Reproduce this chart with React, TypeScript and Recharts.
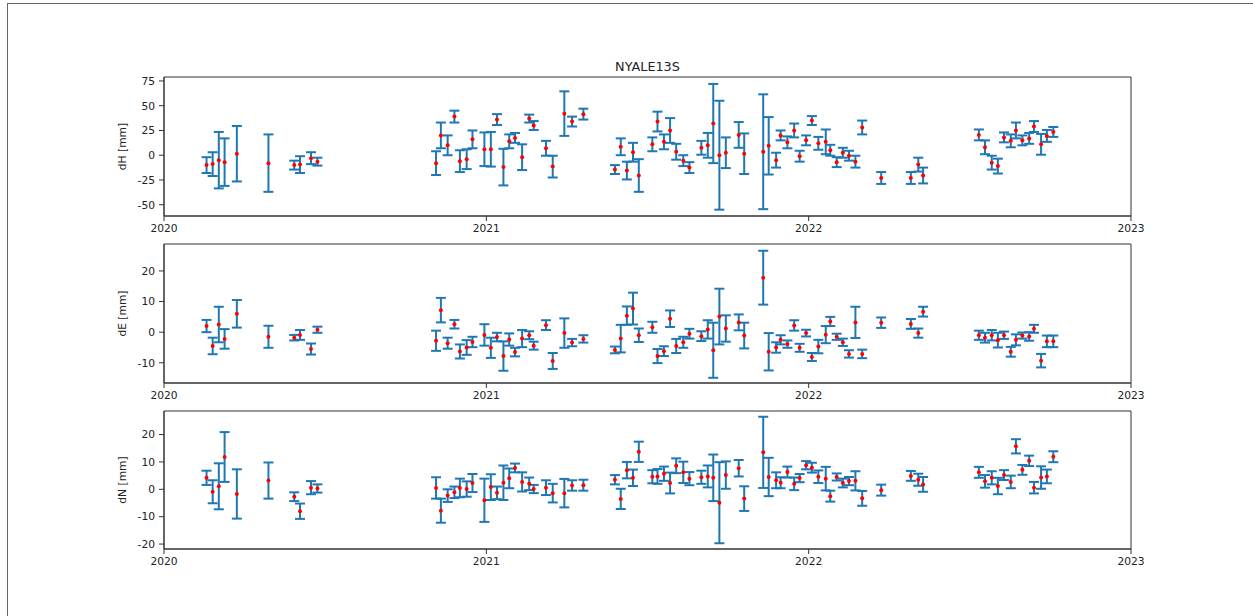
import * as React from 'react';
import { ScatterChart, Scatter, XAxis, YAxis, ErrorBar, ReferenceArea } from 'recharts';

const epochs = [
    2020.132, 2020.151, 2020.170, 2020.188, 2020.226, 2020.324, 2020.404, 2020.422, 2020.456, 2020.476,
    2020.844, 2020.859, 2020.880, 2020.901, 2020.918, 2020.939, 2020.957, 2020.994, 2021.014, 2021.033,
    2021.053, 2021.071, 2021.089, 2021.111, 2021.133, 2021.147, 2021.185, 2021.206, 2021.242, 2021.266, 2021.301,
    2021.399, 2021.417, 2021.436, 2021.455, 2021.473, 2021.515, 2021.531, 2021.551, 2021.570, 2021.589,
    2021.611, 2021.630, 2021.667, 2021.687, 2021.704, 2021.723, 2021.743, 2021.783, 2021.800, 2021.859,
    2021.876, 2021.899, 2021.913, 2021.934, 2021.955, 2021.972, 2021.992, 2022.010, 2022.030, 2022.053,
    2022.067, 2022.087, 2022.106, 2022.125, 2022.145, 2022.166, 2022.225, 2022.317, 2022.340, 2022.355,
    2022.528, 2022.547, 2022.568, 2022.587, 2022.606, 2022.627, 2022.643, 2022.663, 2022.684, 2022.699,
    2022.721, 2022.739, 2022.759,
];

const dH = [
    -10, -9, -5, -7, 1.5, -8, -10, -9.5, -3, -6.5,
    -8, 20, 10, 39, -6, -4, 16, 6, 6, 36, -12, 14, 17.5, -2, 37, 30, 7, -11.5, 42, 34, 41.5,
    -14.5, 8.5, -15.5, 3, -20.5, 11, 34, 13.5, 25, 3.5, -5.5, -12.5, 7.5, 10, 32, 0, 2.5, 20.5, 1.5, 3.5,
    9.5, -5, 20, 13, 25, -1, 15, 35, 12, 13.5, 5, -7, 2.5, -0.5, -6.5, 28, -23, -23, -9.5, -20.5,
    20.5, 8, -7.5, -11, 18, 14.5, 25, 15, 17, 29, 11, 19.5, 23.5,
];
const dHErr = [
    8, 12, 28.5, 24, 28, 29, 4.5, 8.5, 6, 4,
    12, 13, 10, 6, 11, 10, 9, 17, 17.5, 5.5, 18.5, 7, 5, 13, 4, 4.5, 7.5, 11, 22.5, 5, 5.5,
    4.5, 8.5, 9, 9.5, 16.5, 7, 10, 7.5, 12.5, 8, 5.5, 5.5, 7, 12.5, 40, 55, 15.5, 13, 20.5, 58,
    29, 7.5, 5, 6, 7, 5.5, 5, 4.5, 6.5, 12.5, 5.5, 5, 5, 5, 6, 7, 6, 6, 7, 8,
    5.5, 7, 7, 7.5, 5, 6.5, 8, 5, 5.5, 5.5, 10.5, 6, 5,
];

const dE = [
    2, -4.5, 2.5, -2.2, 6, -1.5, -1.8, -0.9, -5.5, 0.8,
    -2.8, 7.2, -3.6, 2.6, -6.3, -5, -3.2, -0.9, -5.1, -1.6, -7.8, -2.4, -6.5, -2.1, -1, -4.4, 2.3, -9.4, -0.3, -3.4, -2.2,
    -5.8, -2.1, 5.4, 7.7, -1, 1.6, -7.8, -6.2, 4.4, -4.5, -3.3, -0.5, -1.3, 0.9, -5.9, 5.1, 1.2, 3.2, -1.1, 17.8,
    -6.4, -5, -2.5, -3.9, 2.2, -5.1, -0.3, -8.1, -4.7, -0.8, 3.5, -1.5, -3.3, -7.1, 3.2, -7.1, 3.1, 2.7, -0.3, 6.7,
    -1, -1.8, -1, -2.6, -1, -6.4, -2.5, -1.1, -1.4, 1.1, -9.3, -3, -3,
];
const dEErr = [
    2, 2.7, 5.8, 3.2, 4.5, 3.6, 0.9, 1.6, 1.8, 1,
    3.3, 4, 1.8, 1.4, 2.3, 2.4, 1.7, 3.5, 3.3, 1.4, 4.8, 2, 1.4, 2.8, 1.3, 1.3, 1.6, 2.6, 4.8, 1.2, 1.2,
    1.1, 4.5, 3, 5.2, 2.2, 1.8, 2.3, 1.6, 2.7, 2.3, 1.8, 1.6, 1.6, 3, 9, 9.1, 4.3, 2.6, 4.2, 8.8,
    6.1, 1.7, 1.5, 1.2, 1.7, 1.3, 1.1, 1.3, 2.2, 2.8, 1.5, 1, 1.2, 1.2, 5.1, 1.4, 1.7, 1.6, 1.5, 1.6,
    1.5, 1.6, 1.7, 2.4, 1.2, 1.6, 1.8, 1, 1.4, 1.3, 2.2, 1.9, 1.9,
];

const dN = [
    4.2, -0.9, 1.1, 11.8, -1.7, 3.2, -2.7, -8, 0.6, 0.3,
    0.5, -7.8, -2.3, -1.1, 0.5, 0.1, 2.3, -4, 0.8, -1.3, 2.4, 4, 7.8, 2.7, 2, 0.1, 0.6, -1.4, -1.4, 1.4, 1.5,
    3.5, -3.5, 7, 4.2, 13.7, 4.6, 4.7, 5.7, 2.3, 8.6, 6.2, 3.9, 4.4, 4.7, 4.2, -4.9, 5.2, 7.7, -3.4, 13.5,
    4.5, 3.3, 2.4, 6.3, 2, 4.1, 8.8, 7.9, 4.6, 3.9, -2.5, 4.5, 2.3, 3, 3.1, -3.3, -0.3, 4.9, 3.5, 1.8,
    6.2, 2.9, 4.2, 1.2, 5.2, 2.7, 15.7, 7.1, 10.4, 0.6, 4.3, 4.7, 11.9,
];
const dNErr = [
    2.6, 4.2, 8.4, 9.1, 9, 6.6, 1.6, 2.8, 2.4, 1.5,
    3.9, 4.4, 2.3, 2.1, 3.4, 2.8, 3.3, 7.9, 4.7, 2.3, 6.3, 3.6, 1.6, 3.5, 2.3, 1.5, 2.7, 3.4, 5.2, 1.9, 2,
    1.7, 3.7, 3, 3, 3.7, 2.4, 2.7, 2.6, 3.8, 2.7, 3.9, 2.4, 2.4, 4, 8.5, 14.8, 5, 3, 4.5, 13,
    7, 2.9, 2, 2, 2.3, 1.5, 1.5, 1.8, 2.3, 4.3, 2, 1.3, 1.6, 1.5, 3.5, 2.7, 2, 1.8, 2.2, 2.7,
    2, 2.3, 2.4, 3, 1.8, 2.3, 2.6, 1.8, 1.9, 2.1, 4.1, 2.5, 2,
];

const yearTicks = [2020, 2021, 2022, 2023];
const dHTicks = [-50, -25, 0, 25, 50, 75];
const dETicks = [-10, 0, 10, 20];
const dNTicks = [-20, -10, 0, 10, 20];

const FONT = '"DejaVu Sans", sans-serif';
const AXIS = '#333';
const TEXT = '#222';

const rows = (vals: number[], errs: number[]) =>
    epochs.map((t, i) => ({ t, v: vals[i], e: errs[i] }));

const Dot = (props: any) => {
    const { cx, cy } = props;
    if (cx == null || cy == null) return null;
    return <circle cx={cx} cy={cy} r={2} fill='red' />;
};

interface PanelProps {
    data: any[];
    domain: [number, number];
    ticks: number[];
    label: string;
    top: number;
    plotHeight: number;
}

const Panel = ({ data, domain, ticks, label, top, plotHeight }: PanelProps) => {
    const tickStyle = { fontSize: 10.7, fill: TEXT, fontFamily: FONT };
    return (
        <div style={{ position: 'absolute', left: 0, top }}>
            <ScatterChart
                width={1253}
                height={10 + plotHeight + 25}
                margin={{ top: 10, right: 122, bottom: 0, left: 108 }}
            >
                <XAxis
                    dataKey='t'
                    type='number'
                    domain={[2020, 2023]}
                    ticks={yearTicks}
                    allowDataOverflow
                    height={25}
                    tick={tickStyle}
                    tickSize={5}
                    tickMargin={3}
                    stroke={AXIS}
                />
                <YAxis
                    dataKey='v'
                    type='number'
                    domain={domain}
                    ticks={ticks}
                    allowDataOverflow
                    width={56}
                    tick={tickStyle}
                    tickSize={5}
                    tickMargin={4}
                    stroke={AXIS}
                    label={{
                        value: label,
                        angle: -90,
                        position: 'insideLeft',
                        offset: 14,
                        textAnchor: 'middle',
                        style: { textAnchor: 'middle', fontSize: 10.7, fill: TEXT, fontFamily: FONT },
                    }}
                />
                {/* box around the axes, like matplotlib spines */}
                <ReferenceArea
                    x1={2020}
                    x2={2023}
                    y1={domain[0]}
                    y2={domain[1]}
                    fill='none'
                    fillOpacity={0}
                    stroke={AXIS}
                    strokeWidth={1}
                    ifOverflow='visible'
                />
                <Scatter data={data} dataKey='v' isAnimationActive={false} shape={Dot}>
                    <ErrorBar dataKey='e' direction='y' width={5} stroke='#1f77b4' strokeWidth={2} />
                </Scatter>
            </ScatterChart>
        </div>
    );
};

export default function App() {
    return (
        <div style={{ position: 'absolute', left: 0, top: 0, width: 1253, height: 616, background: '#fff', fontFamily: FONT }}>
            <div style={{ position: 'absolute', left: 7, top: 3, width: 1260, height: 620, borderTop: '1px solid #666', borderLeft: '1px solid #666' }} />
            <div style={{ position: 'absolute', left: 164, width: 967, top: 59, textAlign: 'center', fontSize: 12.8, color: TEXT, fontFamily: FONT }}>
                NYALE13S
            </div>
            <Panel data={rows(dH, dHErr)} domain={[-61.4, 79]} ticks={dHTicks} label='dH [mm]' top={67} plotHeight={139} />
            <Panel data={rows(dE, dEErr)} domain={[-16.6, 28.8]} ticks={dETicks} label='dE [mm]' top={234} plotHeight={139} />
            <Panel data={rows(dN, dNErr)} domain={[-21.8, 28.6]} ticks={dNTicks} label='dN [mm]' top={401} plotHeight={138} />
        </div>
    );
}
